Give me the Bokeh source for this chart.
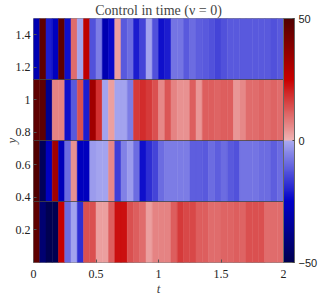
import numpy as np
from bokeh.plotting import figure
from bokeh.models import (ColumnDataSource, LinearColorMapper, ColorBar, FixedTicker,
                          Range1d)
from bokeh.embed import file_html
from bokeh.resources import INLINE

# ---- data ----
t_start, t_end, n_steps = 0.0, 2.0, 40
band_edges = [0.0, 0.375, 0.75, 1.125, 1.5]

band1 = [47, -43, -50, -50, 25, -9, -1, -18, 14, 14,
         3, 3, 12, 23, 23, 14, 12, 10, 3, 7,
         7, 7, 12, 17, 15, 15, 12, 12, 10, 10,
         11, 11, 12, 11, 14, 14, 14, 10, 10, 10]
band2 = [50, -48, -27, 33, -28, -9, 5, -27, -27, -2,
         -1, -1, 6, -16, -6, -2, -9, -23, -18, -15,
         -9, -7, -7, -7, -7, -11, -11, -12, -9, -11,
         -9, -12, -13, -8, -8, -8, -9, -9, -11, -9]
band3 = [47, 47, -37, 7, 7, -23, -12, 14, -21, 33,
         18, -1, 3, -1, -1, -7, 17, 19, 17, 14,
         6, 13, 7, 5, 5, 12, 4, 12, 12, 11,
         12, 12, 4, 6, 10, 10, 11, 10, 11, 10]
band4 = [-30, 47, -21, -27, 47, -23, 10, -1, 27, -13,
         -7, -30, -24, 3, -12, -9, -21, -15, -1, -13,
         -23, -21, -8, -8, -12, -9, -11, -12, -13, -15,
         -13, -12, -12, -12, -12, -12, -12, -12, -13, -12]
bands = [band1, band2, band3, band4]

x_ticks = [0, 0.5, 1, 1.5, 2]
x_tick_labels = ["0", "0.5", "1", "1.5", "2"]
y_ticks = [0.2, 0.4, 0.6, 0.8, 1.0, 1.2, 1.4]
y_tick_labels = ["0.2", "0.4", "0.6", "0.8", "1", "1.2", "1.4"]
c_ticks = [-50, 0, 50]
c_low, c_high = -50, 50

# ---- colormap ----
def cmap_color(v):
    if v < 0:
        u = -v
        if u <= 25:
            f = u / 25
            r = g = 170 * (1 - f); b = 240 - 40 * f
        else:
            f = (u - 25) / 25
            r = g = 0; b = 200 - 120 * f
    else:
        if v <= 25:
            f = v / 25
            r = 240 - 40 * f; g = b = 180 * (1 - f)
        else:
            f = (v - 25) / 25
            r = 200 - 120 * f; g = b = 0
    return "#%02x%02x%02x" % (int(round(r)), int(round(g)), int(round(b)))

N = 256
palette = [cmap_color(c_low + (i + 0.5) * (c_high - c_low) / N) for i in range(N)]
mapper = LinearColorMapper(palette=palette, low=c_low, high=c_high)

# ---- build cells ----
t_edges = np.linspace(t_start, t_end, n_steps + 1)
left, right, bottom, top, val = [], [], [], [], []
for bi, vals in enumerate(bands):
    for j, v in enumerate(vals):
        left.append(t_edges[j]); right.append(t_edges[j + 1])
        bottom.append(band_edges[bi]); top.append(band_edges[bi + 1])
        val.append(v)
src = ColumnDataSource(dict(left=left, right=right, bottom=bottom, top=top, val=val))

SERIF = "Liberation Serif"
p = figure(frame_width=250, frame_height=244, output_backend="svg", toolbar_location=None,
           x_range=Range1d(t_start, t_end), y_range=Range1d(band_edges[0], band_edges[-1]),
           title="Control in time (\u03bd = 0)", min_border_left=0, min_border_right=0,
           min_border_top=0, min_border_bottom=0)
p.quad(left="left", right="right", bottom="bottom", top="top", source=src,
       fill_color={"field": "val", "transform": mapper},
       line_color={"field": "val", "transform": mapper}, line_width=0.5)
p.hspan(y=band_edges[1:-1], line_color="#444444", line_width=1, line_alpha=0.8)

p.title.align = "center"
p.title.text_font = SERIF
p.title.text_font_size = "14px"
p.title.text_font_style = "normal"
p.title.standoff = 1

p.grid.visible = False
p.outline_line_color = "#888888"
p.background_fill_color = "white"

for ax in (p.xaxis, p.yaxis):
    ax.major_label_text_font = SERIF
    ax.major_label_text_font_size = "12px"
    ax.major_label_text_color = "#222222"
    ax.axis_label_text_font = SERIF
    ax.axis_label_text_font_size = "13px"
    ax.axis_label_text_font_style = "italic"
    ax.axis_line_color = None
    ax.major_tick_in = 3
    ax.major_tick_out = 0
    ax.major_tick_line_color = "#555555"
    ax.minor_tick_line_color = None

p.xaxis.ticker = FixedTicker(ticks=x_ticks)
p.xaxis.major_label_overrides = {float(k): s for k, s in zip(x_ticks, x_tick_labels)}
p.yaxis.ticker = FixedTicker(ticks=y_ticks)
p.yaxis.major_label_overrides = {float(k): s for k, s in zip(y_ticks, y_tick_labels)}
p.xaxis.axis_label = "t"
p.yaxis.axis_label = "y"
p.xaxis.major_label_standoff = 7
p.yaxis.major_label_standoff = 3
p.xaxis.axis_label_standoff = 0
p.yaxis.axis_label_standoff = -6

cb = ColorBar(color_mapper=mapper, ticker=FixedTicker(ticks=c_ticks), width=11,
              padding=0, margin=8, label_standoff=4,
              major_label_text_font="Liberation Sans", major_label_text_font_size="11px",
              major_label_text_color="#222222",
              major_tick_in=2, major_tick_out=0, major_tick_line_color="#444444",
              bar_line_color="#666666", background_fill_alpha=0, border_line_color=None)
p.add_layout(cb, "right")

open("out.html", "w").write(file_html(p, INLINE))
